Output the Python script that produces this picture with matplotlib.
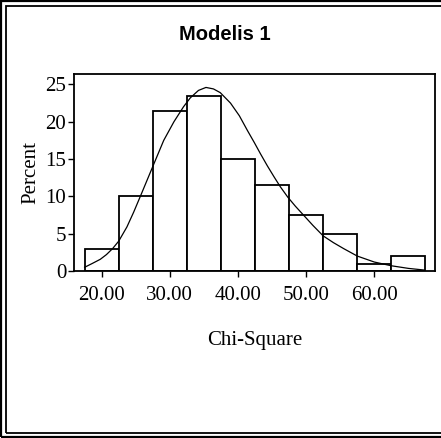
#!/usr/bin/env python3

import numpy as np
import matplotlib
matplotlib.use("Agg")
import matplotlib.pyplot as plt
from matplotlib.patches import Rectangle

## histogram bins (Chi-Square), percent per bin
bin_edges = [17.5, 22.5, 27.5, 32.5, 37.5, 42.5, 47.5, 52.5, 57.5, 62.5, 67.5]
percent = [3.0, 10.0, 21.5, 23.5, 15.0, 11.5, 7.5, 5.0, 1.0, 2.0]

## fitted curve, points
curve_x = [17.5, 18.6, 19.8, 20.7, 21.6, 22.5, 23.7, 24.7, 25.9, 27.45,
           29.1, 30.6, 32.0, 33.0, 34.2, 35.3, 36.4, 37.4, 38.9, 40.2,
           41.4, 42.4, 43.3, 44.3, 45.3, 46.2, 47.3, 48.4, 49.5, 51.0,
           52.5, 54.0, 55.5, 57.5, 60.0, 62.5, 65.0, 67.3]
curve_y = [0.5, 1.0, 1.57, 2.2, 3.0, 4.0, 5.9, 7.9, 10.5, 13.9,
           17.5, 20.0, 22.0, 23.2, 24.2, 24.6, 24.4, 23.9, 22.5, 20.8,
           18.8, 17.2, 15.7, 14.1, 12.6, 11.3, 9.9, 8.7, 7.6, 6.1,
           4.7, 3.8, 3.0, 2.0, 1.2, 0.7, 0.35, 0.13]

xticks = [20, 30, 40, 50, 60]
yticks = [0, 5, 10, 15, 20, 25]

W, H = 441, 438
fig = plt.figure(figsize=(W / 100, H / 100), dpi=100)

serif = ["Liberation Serif", "DejaVu Serif"]

## axes box in pixel coords: left 74, right 435, top 74, bottom 271
ax = fig.add_axes([74 / W, 1 - 271 / H, (435 - 74) / W, (271 - 74) / H])

widths = np.diff(bin_edges)
ax.bar(bin_edges[:-1], percent, width=widths, align="edge",
       facecolor="white", edgecolor="black", linewidth=1.3)
ax.plot(curve_x, curve_y, color="black", linewidth=0.9)

ax.set_xlim(15.94, 68.9)
ax.set_ylim(0, 26.4)
ax.set_xticks(xticks)
ax.set_xticklabels(["%.2f" % t for t in xticks])
ax.set_yticks(yticks)
ax.tick_params(direction="out", length=4.5, width=1.0, color="black",
               labelsize=15)
ax.tick_params(axis="y", pad=1)
ax.tick_params(axis="x", pad=6)
for lab in ax.get_xticklabels() + ax.get_yticklabels():
    lab.set_family(serif)
for s in ax.spines.values():
    s.set_linewidth(1.3)

ax.set_xlabel("Chi-Square", family=serif, fontsize=15, labelpad=19)
ax.set_ylabel("Percent", family=serif, fontsize=15, labelpad=4)

fig.text(225 / W, 1 - 34 / H, "Modelis 1", ha="center", va="center",
         family=["Liberation Sans", "DejaVu Sans"], fontweight="bold",
         fontsize=14.5)

## double frame around the chart (right side runs off the picture)
fig.add_artist(Rectangle((1 / W, 1 / H), 460 / W, 436 / H, transform=fig.transFigure,
                         fill=False, edgecolor="black", linewidth=1.6))
fig.add_artist(Rectangle((5.6 / W, 5.0 / H), 460 / W, 427.5 / H, transform=fig.transFigure,
                         fill=False, edgecolor="black", linewidth=1.3))

plt.savefig("out.png", dpi=100)
